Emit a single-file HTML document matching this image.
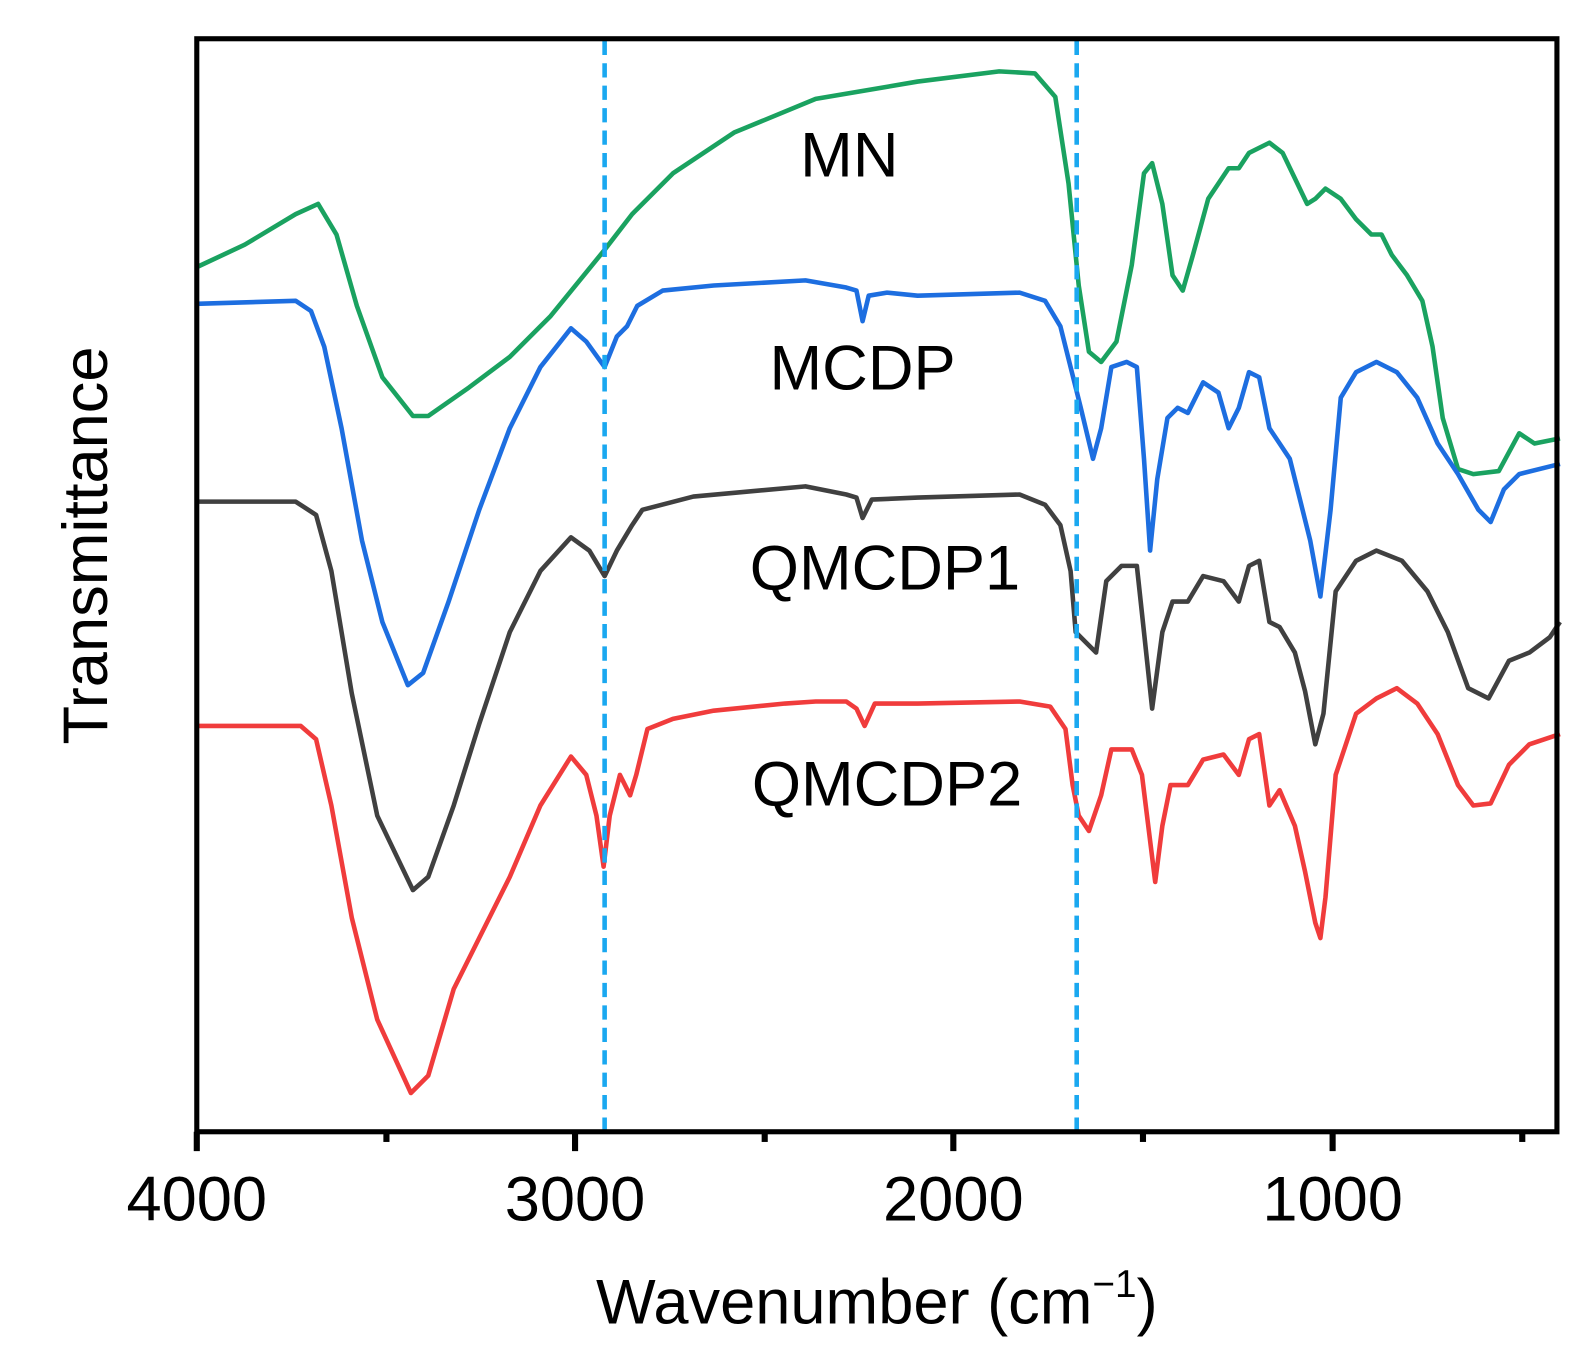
<!DOCTYPE html>
<html><head><meta charset="utf-8"><style>html,body{margin:0;padding:0;background:#fff}svg{display:block}</style></head><body>
<svg width="1594" height="1363" viewBox="0 0 1594 1363" xmlns="http://www.w3.org/2000/svg" font-family="Liberation Sans, Arial, sans-serif">
<g transform="scale(1.0196)">
<g fill="none" stroke-width="4.5" stroke-linejoin="round">
<polyline stroke="#1aa260" points="193,262 240,240 290,210 312,200 330,230 350,300 375,370 405,408 420,408 460,380 500,350 540,310 593,245 620,210 660,170 720,130 800,97 900,80 980,70 1015,72 1035,95 1048,180 1058,280 1068,345 1080,355 1095,335 1110,260 1122,170 1130,160 1140,200 1150,270 1160,285 1170,250 1185,195 1205,165 1215,165 1225,150 1245,140 1258,150 1270,175 1282,200 1290,195 1300,185 1315,195 1330,215 1345,230 1355,230 1365,250 1380,270 1395,295 1405,340 1415,410 1430,460 1445,465 1470,462 1490,425 1505,435 1530,430"/>
<polyline stroke="#1d6ee0" points="193,298 290,295 305,305 318,340 335,420 355,530 375,610 400,672 415,660 440,590 470,500 500,420 530,360 560,322 575,335 593,360 605,330 615,320 625,300 650,285 700,280 790,275 830,282 840,285 846,315 852,290 870,287 900,290 1000,287 1025,295 1040,320 1050,360 1060,400 1072,450 1080,420 1090,360 1105,355 1115,360 1122,450 1128,540 1135,470 1145,410 1155,400 1165,405 1180,375 1195,385 1205,420 1215,400 1225,365 1235,370 1245,420 1255,435 1265,450 1275,490 1285,530 1295,585 1305,500 1315,390 1330,365 1350,355 1370,365 1390,390 1410,435 1430,465 1450,500 1462,512 1475,480 1490,465 1530,455"/>
<polyline stroke="#404040" points="193,492 290,492 310,505 325,560 345,680 370,800 405,873 420,860 445,790 470,710 500,620 530,560 560,527 578,540 593,565 605,540 620,515 630,500 680,487 790,477 830,485 840,488 846,508 855,490 900,488 1000,485 1025,495 1040,515 1050,560 1055,620 1065,630 1075,640 1085,570 1100,555 1115,555 1122,620 1130,695 1140,620 1150,590 1165,590 1180,565 1200,570 1215,590 1225,555 1235,550 1245,610 1255,615 1270,640 1280,678 1290,730 1298,700 1310,580 1330,550 1350,540 1375,550 1400,580 1420,620 1440,675 1460,685 1480,648 1500,640 1520,625 1530,610"/>
<polyline stroke="#f03c3c" points="193,712 295,712 310,725 325,790 345,900 370,1000 403,1072 420,1055 445,970 470,920 500,860 530,790 560,742 575,760 585,800 592,850 598,800 608,760 618,780 624,760 635,715 660,705 700,697 770,690 800,688 830,688 840,695 848,712 858,690 900,690 1000,688 1030,693 1045,715 1052,770 1058,800 1068,815 1080,780 1090,735 1110,735 1120,760 1133,865 1140,810 1148,770 1165,770 1180,745 1200,740 1215,760 1225,725 1235,720 1245,790 1255,775 1270,810 1280,855 1290,905 1295,920 1300,880 1310,760 1330,700 1350,685 1370,675 1390,690 1410,720 1430,770 1445,790 1462,788 1480,750 1500,730 1530,720"/>
</g>
<g stroke="#1aa8f0" stroke-width="4.5" stroke-dasharray="14,8">
<line x1="593" y1="40" x2="593" y2="1108"/>
<line x1="1056" y1="40" x2="1056" y2="1108"/>
</g>
<rect x="193" y="38" width="1334" height="1072" fill="none" stroke="#000" stroke-width="5"/>
<g stroke="#000" stroke-width="6">
<line x1="193" y1="1110" x2="193" y2="1129"/><line x1="564" y1="1110" x2="564" y2="1129"/><line x1="935" y1="1110" x2="935" y2="1129"/><line x1="1307" y1="1110" x2="1307" y2="1129"/>
<line x1="379" y1="1110" x2="379" y2="1120"/><line x1="750" y1="1110" x2="750" y2="1120"/><line x1="1121" y1="1110" x2="1121" y2="1120"/><line x1="1493" y1="1110" x2="1493" y2="1120"/>
</g>
<g font-size="62" text-anchor="middle" fill="#000">
<text x="193" y="1197">4000</text><text x="564" y="1197">3000</text><text x="935" y="1197">2000</text><text x="1307" y="1197">1000</text>
<text x="833" y="173">MN</text><text x="846" y="382">MCDP</text><text x="868" y="578">QMCDP1</text><text x="870" y="790">QMCDP2</text>
<text x="860" y="1298">Wavenumber (cm<tspan font-size="38" dy="-26">−1</tspan><tspan dy="26">)</tspan></text>
<text transform="translate(105,535) rotate(-90)">Transmittance</text>
</g>
</g>
</svg>
</body></html>
